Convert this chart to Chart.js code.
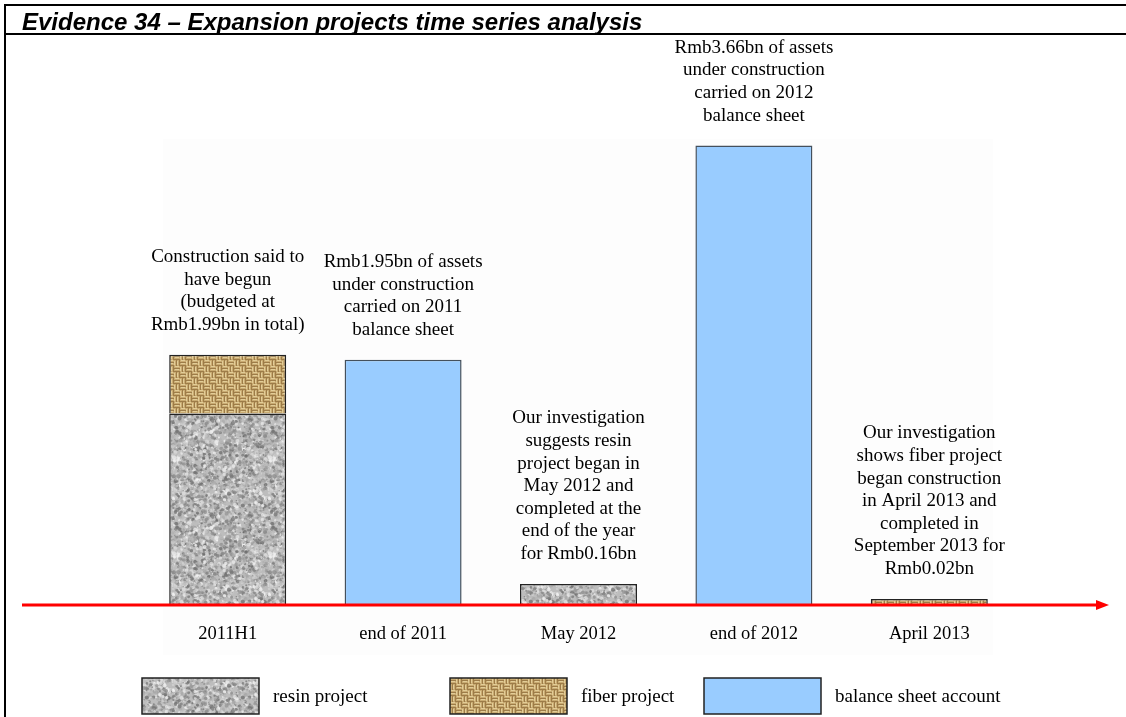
<!DOCTYPE html>
<html lang="en">
<head>
    <meta charset="UTF-8">
    <title>Evidence 34 – Expansion projects time series analysis</title>
    <script src="https://cdn.jsdelivr.net/npm/chart.js"></script>
    <style>
        body { margin: 0; background: #fff; }
        #wrap { position: relative; width: 1126px; height: 717px; overflow: hidden; }
        #frame {
            position: absolute; left: 4px; top: 4px; width: 1130px; height: 720px;
            border-left: 2px solid #000; border-top: 2px solid #000;
        }
        #title {
            position: absolute; left: 6px; top: 6px; width: 1130px; height: 23px;
            padding: 4px 0 0 16px; border-bottom: 2px solid #000;
            font: italic bold 24px "Liberation Sans", Arial, sans-serif; line-height: 24px;
            color: #000; white-space: nowrap;
        }
    </style>
</head>
<body>
<div id="wrap">
    <canvas id="chart"></canvas>
    <div id="frame"></div>
    <div id="title">Evidence 34 – Expansion projects time series analysis</div>
</div>

<script>
    // data (Rmb bn)
    const categories = ['2011H1', 'end of 2011', 'May 2012', 'end of 2012', 'April 2013'];
    const resinValues = [1.52, null, 0.16, null, null];
    const fiberValues = [0.47, null, null, null, 0.02];
    const balanceValues = [null, 1.95, null, 3.66, null];
    const seriesNames = ['resin project', 'fiber project', 'balance sheet account'];
    const notes = [
        ['Construction said to', 'have begun', '(budgeted at', 'Rmb1.99bn in total)'],
        ['Rmb1.95bn of assets', 'under construction', 'carried on 2011', 'balance sheet'],
        ['Our investigation', 'suggests resin', 'project began in', 'May 2012 and', 'completed at the', 'end of the year', 'for Rmb0.16bn'],
        ['Rmb3.66bn of assets', 'under construction', 'carried on 2012', 'balance sheet'],
        ['Our investigation', 'shows fiber project', 'began construction', 'in April 2013 and', 'completed in', 'September 2013 for', 'Rmb0.02bn']
    ];

    const serif = '"Liberation Serif", "Times New Roman", serif';
    const canvas = document.getElementById('chart');
    const ctx = canvas.getContext('2d');

    // seeded generator, only used for the fill textures
    function seeded(seed) {
        let s = seed >>> 0;
        return () => (s = (s * 1664525 + 1013904223) >>> 0) / 4294967296;
    }

    function granitePattern() {
        const t = document.createElement('canvas');
        t.width = t.height = 96;
        const g = t.getContext('2d');
        g.fillStyle = '#bdbdbd';
        g.fillRect(0, 0, 96, 96);
        const rnd = seeded(11);
        for (let k = 0; k < 2400; k++) {
            const x = rnd() * 96, y = rnd() * 96, r = 0.5 + rnd() * 1.6;
            const v = Math.floor(100 + rnd() * 150);
            g.fillStyle = `rgba(${v},${v},${v},0.7)`;
            for (const dx of [0, 96, -96]) for (const dy of [0, 96, -96]) {
                g.beginPath();
                g.arc(x + dx, y + dy, r, 0, Math.PI * 2);
                g.fill();
            }
        }
        return ctx.createPattern(t, 'repeat');
    }

    function burlapPattern() {
        const t = document.createElement('canvas');
        t.width = t.height = 12;
        const g = t.getContext('2d');
        g.fillStyle = '#9d7c48';
        g.fillRect(0, 0, 12, 12);
        for (let bx = 0; bx < 2; bx++) {
            for (let by = 0; by < 2; by++) {
                const ox = bx * 6, oy = by * 6;
                const flat = (bx + by) % 2 === 0;
                for (const o of [0, 3]) {
                    g.fillStyle = '#c9ab72';
                    if (flat) g.fillRect(ox, oy + o, 6, 2); else g.fillRect(ox + o, oy, 2, 6);
                    g.fillStyle = '#e2cd98';
                    if (flat) g.fillRect(ox + 1, oy + o, 4, 1); else g.fillRect(ox + o, oy + 1, 1, 4);
                }
            }
        }
        return ctx.createPattern(t, 'repeat');
    }

    const resinFill = granitePattern();
    const fiberFill = burlapPattern();
    const balanceFill = '#99ccff';
    const fills = [resinFill, fiberFill, balanceFill];

    // faint plot backdrop, red time arrow, notes and legend
    const extras = {
        id: 'extras',
        beforeDraw(chart) {
            const c = chart.ctx;
            c.save();
            c.fillStyle = '#fdfdfd';
            c.fillRect(163, 139, 830, 516);
            c.restore();
        },
        afterDatasetsDraw(chart) {
            const c = chart.ctx;
            const y0 = chart.scales.y.getPixelForValue(0) + 1;
            c.save();
            c.strokeStyle = '#ff0000';
            c.fillStyle = '#ff0000';
            c.lineWidth = 3;
            c.beginPath();
            c.moveTo(22, y0);
            c.lineTo(1098, y0);
            c.stroke();
            c.beginPath();
            c.moveTo(1109, y0);
            c.lineTo(1096, y0 - 5);
            c.lineTo(1096, y0 + 5);
            c.closePath();
            c.fill();

            // notes above each column
            c.fillStyle = '#000';
            c.font = '19px ' + serif;
            c.textAlign = 'center';
            c.textBaseline = 'middle';
            categories.forEach((cat, i) => {
                let top = Infinity, x = 0;
                chart.data.datasets.forEach((ds, d) => {
                    const el = chart.getDatasetMeta(d).data[i];
                    if (ds.data[i] != null && el && el.y < top) { top = el.y; x = el.x; }
                });
                const lines = notes[i];
                lines.forEach((ln, k) => {
                    c.fillText(ln, x, top - 30 - (lines.length - 1 - k) * 22.6);
                });
            });

            // legend row
            const boxX = [142, 450, 704];
            seriesNames.forEach((name, i) => {
                c.fillStyle = fills[i];
                c.fillRect(boxX[i], 678, 117, 36);
                c.strokeStyle = '#222';
                c.lineWidth = 1.5;
                c.strokeRect(boxX[i], 678, 117, 36);
                c.fillStyle = '#000';
                c.textAlign = 'left';
                c.fillText(name, boxX[i] + 131, 697);
            });
            c.restore();
        }
    };

    new Chart(ctx, {
        type: 'bar',
        data: {
            labels: categories,
            datasets: [
                { label: seriesNames[0], data: resinValues, backgroundColor: resinFill, borderColor: '#222', borderWidth: 1.5 },
                { label: seriesNames[1], data: fiberValues, backgroundColor: fiberFill, borderColor: '#222', borderWidth: 1.5, minBarLength: 5 },
                { label: seriesNames[2], data: balanceValues, backgroundColor: balanceFill, borderColor: '#44505c', borderWidth: 1.5 }
            ]
        },
        options: {
            responsive: true,
            maintainAspectRatio: false,
            animation: false,
            categoryPercentage: 1,
            barPercentage: 0.667,
            layout: { padding: { left: 140, right: 109, top: 103, bottom: 73 } },
            plugins: { legend: { display: false }, tooltip: { enabled: false } },
            scales: {
                x: {
                    stacked: true,
                    grid: { display: false, drawTicks: false },
                    border: { display: false },
                    ticks: { color: '#000', font: { family: serif, size: 18.5 }, padding: 19 },
                    afterFit: s => { s.height = 40; }
                },
                y: { stacked: true, display: false, min: 0, max: 4 }
            }
        },
        plugins: [extras]
    });
</script>
</body>
</html>
